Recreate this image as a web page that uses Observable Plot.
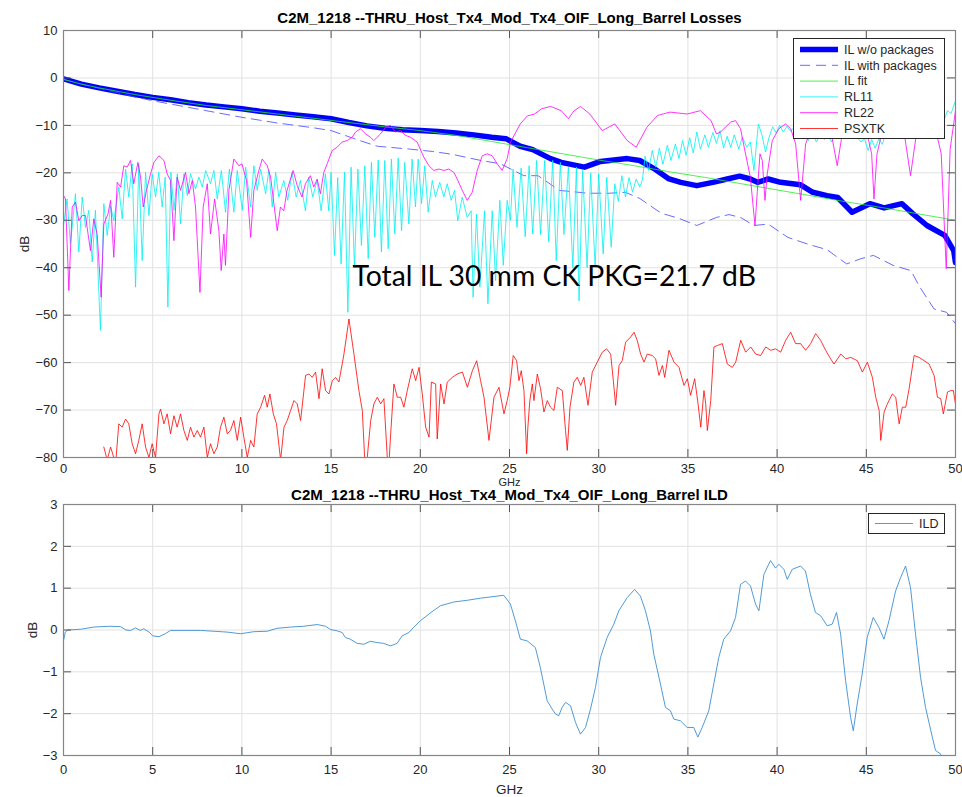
<!DOCTYPE html>
<html><head><meta charset="utf-8">
<script src="https://cdn.jsdelivr.net/npm/d3@7"></script>
<script src="https://cdn.jsdelivr.net/npm/@observablehq/plot@0.6"></script>
<style>
body{margin:0;background:#fff;}
#wrap{position:relative;width:962px;height:797px;font-family:"Liberation Sans",Arial,sans-serif;overflow:hidden;}
#top,#bot,.leg{position:absolute;left:0;}
#top{top:0;}
#bot{top:482px;}
</style></head>
<body>
<div id="wrap"><div id="top"></div><div id="bot"></div></div>
<script>
// ---------- data (GHz, dB) ----------
const titleTop = "C2M_1218 --THRU_Host_Tx4_Mod_Tx4_OIF_Long_Barrel Losses";
const titleBot = "C2M_1218 --THRU_Host_Tx4_Mod_Tx4_OIF_Long_Barrel ILD";
const xLabel = "GHz";
const yLabel = "dB";
const annotation = {text: "Total IL 30 mm CK PKG=21.7 dB", f: 16.2, db: -42};
const xTicks = [0,5,10,15,20,25,30,35,40,45,50];
const yTicksTop = [-80,-70,-60,-50,-40,-30,-20,-10,0,10];
const yTicksBot = [-3,-2,-1,0,1,2,3];
const seriesNames = ["IL w/o packages","IL with packages","IL fit","RL11","RL22","PSXTK"];

const ilNoPkg = [[0,-0.2],[1,-1.3],[2,-2.1],[3,-2.8],[4,-3.5],[5,-4.1],[6,-4.6],[7,-5.2],[8,-5.7],[9,-6.1],[10,-6.5],[11,-7.0],[12,-7.4],[13,-7.8],[14,-8.2],[15,-8.6],[16,-9.4],[17,-10.1],[18,-10.6],[19,-10.9],[20,-11.1],[21,-11.3],[22,-11.6],[23,-12.0],[24,-12.5],[24.8,-12.8],[25.6,-14.4],[26.3,-15.1],[27.3,-17.0],[27.9,-17.8],[29.2,-18.8],[30.1,-17.6],[31.6,-17.0],[32.3,-17.4],[33.1,-19.1],[33.9,-21.2],[34.6,-22.0],[35.5,-22.7],[36.4,-22.0],[37.2,-21.3],[37.9,-20.7],[38.5,-21.3],[38.9,-22.0],[39.5,-21.3],[40.2,-22.0],[41.3,-22.5],[42.0,-24.1],[42.8,-24.8],[43.4,-25.2],[44.2,-28.3],[45.2,-26.5],[46.0,-27.4],[47.0,-26.5],[47.6,-28.6],[48.4,-31.1],[49.4,-33.2],[49.9,-36.4],[50,-38.9]];

const ilPkg = [[0,-0.3],[1,-1.3],[2,-2.2],[3,-3.1],[4,-4.0],[5,-4.8],[6,-5.5],[7,-6.2],[8,-6.9],[9,-7.6],[10,-8.3],[11,-8.9],[12,-9.5],[13,-10.0],[14,-10.5],[15,-11.1],[16,-12.4],[16.6,-13.2],[17.6,-14.4],[19.4,-15.0],[20.7,-15.5],[21.8,-16.1],[23.4,-17.4],[24.5,-18.1],[25.8,-20.6],[26.6,-20.6],[27.8,-23.7],[29.4,-24.3],[30.6,-24.3],[31.5,-24.1],[32.3,-25.4],[33.5,-28.5],[34.5,-29.6],[35.5,-31.1],[36.6,-29.4],[37.3,-28.8],[37.95,-29.4],[38.7,-31.1],[39.5,-30.8],[40.6,-33.6],[41.7,-35.0],[42.8,-36.2],[43.9,-39.2],[44.7,-38.1],[45.4,-37.4],[46.5,-39.5],[47.5,-40.6],[48.0,-44.1],[48.8,-48.7],[49.5,-49.4],[50,-51.8]];

const ilFit = [[0,-0.3],[1,-1.3],[2,-2.1],[4,-3.5],[6,-4.7],[8,-5.8],[10,-6.7],[12,-7.6],[14,-8.5],[16,-9.4],[18,-10.3],[20,-11.1],[22,-12.1],[24,-13.4],[26,-14.7],[28,-16.0],[30,-17.3],[32,-18.5],[34,-19.8],[36,-21.0],[38,-22.3],[40,-23.6],[42,-24.9],[44,-26.2],[46,-27.4],[48,-28.7],[50,-30.0]];

const rl11 = [[0,-31.1],[0.2,-25.5],[0.39,-35.0],[0.67,-24.4],[0.86,-36.7],[1.05,-25.1],[1.23,-31.5],[1.42,-27.9],[1.61,-38.8],[1.79,-27.9],[2.07,-53.2],[2.26,-26.5],[2.45,-33.2],[2.64,-27.0],[2.82,-30.1],[3.10,-23.0],[3.29,-29.7],[3.48,-19.2],[3.66,-25.1],[3.85,-18.1],[4.04,-44.1],[4.22,-18.1],[4.41,-38.5],[4.60,-19.9],[4.79,-29.0],[4.97,-20.2],[5.16,-25.1],[5.34,-19.9],[5.53,-27.2],[5.70,-20.9],[5.85,-48.3],[6.02,-19.9],[6.19,-27.9],[6.38,-20.2],[6.56,-30.8],[6.75,-20.2],[6.94,-24.8],[7.12,-20.2],[7.40,-23.4],[7.59,-20.9],[7.78,-23.0],[7.97,-19.5],[8.24,-22.3],[8.43,-19.5],[8.62,-25.5],[8.85,-19.5],[9.08,-28.3],[9.30,-19.2],[9.55,-28.3],[9.74,-19.5],[10.02,-27.9],[10.21,-18.8],[10.49,-27.2],[10.67,-18.5],[10.86,-23.7],[11.05,-19.2],[11.33,-24.4],[11.51,-19.5],[11.70,-27.2],[11.89,-19.9],[12.07,-25.1],[12.35,-21.6],[12.57,-25.8],[12.81,-19.9],[13.04,-25.1],[13.28,-21.6],[13.56,-28.0],[13.75,-20.9],[13.97,-25.1],[14.22,-21.6],[14.44,-28.0],[14.68,-20.2],[14.87,-28.0],[15.0,-19.9],[15.19,-37.4],[15.37,-21.0],[15.56,-39.2],[15.75,-19.9],[15.94,-49.4],[16.12,-18.8],[16.31,-39.9],[16.50,-19.2],[16.70,-35.3],[16.89,-18.5],[17.08,-38.1],[17.26,-17.8],[17.45,-33.6],[17.64,-17.3],[17.82,-36.7],[18.01,-17.4],[18.20,-36.0],[18.38,-17.1],[18.57,-32.9],[18.76,-16.9],[18.95,-32.2],[19.13,-17.8],[19.36,-30.8],[19.54,-17.1],[19.73,-27.2],[19.88,-17.1],[20.07,-26.5],[20.25,-18.5],[20.44,-28.3],[20.67,-21.6],[20.85,-25.1],[21.09,-22.0],[21.32,-25.1],[21.51,-22.3],[21.73,-25.8],[21.92,-23.7],[22.10,-30.1],[22.35,-25.1],[22.63,-29.4],[22.85,-28.0],[22.96,-46.2],[23.15,-28.7],[23.34,-44.1],[23.60,-28.0],[23.79,-47.6],[24.03,-28.0],[24.22,-42.7],[24.46,-25.8],[24.65,-39.5],[24.87,-25.8],[25.05,-30.0],[25.2,-19.2],[25.42,-31.5],[25.65,-19.0],[25.88,-33.5],[26.1,-18.5],[26.3,-32.9],[26.52,-17.4],[26.74,-33.0],[26.97,-17.4],[27.2,-34.5],[27.42,-17.4],[27.62,-38.5],[27.85,-17.8],[28.05,-33.0],[28.3,-18.8],[28.55,-40.0],[28.75,-18.8],[28.9,-47.0],[29.1,-19.5],[29.35,-40.0],[29.55,-20.0],[29.8,-39.9],[30.0,-20.2],[30.25,-37.1],[30.45,-20.9],[30.7,-35.7],[30.9,-22.3],[31.1,-26.0],[31.3,-20.6],[31.5,-25.1],[31.7,-21.0],[31.9,-24.1],[32.1,-21.3],[32.3,-23.0],[32.45,-21.5],[32.6,-16.5],[32.8,-19.5],[33.0,-15.3],[33.2,-18.8],[33.4,-14.8],[33.6,-18.2],[33.85,-14.2],[34.05,-17.4],[34.3,-13.9],[34.5,-17.0],[34.7,-13.2],[34.9,-16.3],[35.1,-12.6],[35.3,-15.8],[35.5,-11.4],[35.7,-15.0],[35.95,-12.0],[36.15,-14.6],[36.4,-11.5],[36.6,-13.8],[36.8,-11.1],[37.0,-14.8],[37.2,-12.3],[37.4,-14.6],[37.6,-12.0],[37.85,-15.0],[38.05,-12.5],[38.3,-14.6],[38.5,-13.5],[38.7,-19.5],[38.95,-9.7],[39.15,-12.0],[39.35,-15.6],[39.55,-12.5],[39.75,-10.3],[39.95,-11.6],[40.15,-10.0],[40.35,-11.4],[40.55,-10.2],[40.75,-11.2],[41.0,-10.3],[41.25,-12.0],[41.5,-11.0],[41.75,-13.2],[41.95,-11.5],[42.2,-13.5],[42.4,-12.0],[42.65,-13.0],[42.85,-11.8],[43.05,-13.5],[43.3,-11.5],[43.5,-12.8],[43.75,-11.0],[43.95,-12.5],[44.2,-10.8],[44.45,-12.3],[44.7,-13.5],[44.9,-12.8],[45.1,-15.3],[45.3,-13.0],[45.5,-14.8],[45.7,-12.8],[45.9,-14.0],[46.1,-11.5],[46.35,-12.5],[46.6,-10.5],[46.85,-11.8],[47.1,-10.2],[47.35,-11.5],[47.6,-9.8],[47.85,-11.2],[48.1,-9.5],[48.35,-10.8],[48.6,-9.0],[48.85,-10.0],[49.1,-8.2],[49.35,-9.0],[49.55,-6.9],[49.75,-7.5],[50,-4.8]];

const rl22 = [[0,-24.8],[0.11,-25.5],[0.30,-44.8],[0.49,-27.2],[0.67,-26.2],[0.86,-30.1],[1.05,-29.0],[1.23,-29.0],[1.51,-36.4],[1.70,-29.7],[1.89,-33.0],[2.11,-46.2],[2.26,-30.8],[2.49,-28.7],[2.64,-25.8],[2.82,-37.8],[3.01,-22.0],[3.20,-23.0],[3.38,-18.5],[3.57,-18.8],[3.76,-17.4],[3.94,-22.3],[4.17,-17.8],[4.32,-20.9],[4.47,-27.2],[4.65,-23.7],[4.88,-20.2],[5.07,-17.8],[5.35,-16.4],[5.63,-17.4],[5.81,-20.2],[6.00,-21.6],[6.19,-34.3],[6.37,-20.9],[6.56,-23.7],[6.84,-19.9],[7.03,-24.4],[7.22,-21.6],[7.40,-27.2],[7.65,-45.2],[7.83,-27.2],[8.06,-22.3],[8.24,-32.9],[8.47,-25.5],[8.71,-32.2],[8.84,-40.6],[8.99,-32.9],[9.08,-39.5],[9.27,-23.7],[9.55,-17.1],[9.83,-18.5],[10.0,-18.1],[10.26,-21.6],[10.49,-33.6],[10.67,-23.7],[10.95,-19.5],[11.14,-17.1],[11.42,-18.5],[11.61,-20.9],[11.98,-32.2],[12.16,-27.2],[12.35,-28.0],[12.53,-23.7],[12.87,-19.5],[13.10,-22.7],[13.37,-25.1],[13.56,-22.3],[13.84,-20.6],[14.03,-23.0],[14.22,-21.3],[14.40,-24.4],[14.59,-19.9],[14.78,-18.1],[15.06,-15.3],[15.34,-14.6],[15.62,-13.5],[15.90,-13.2],[16.18,-12.5],[16.37,-11.4],[16.65,-10.7],[16.93,-11.8],[17.21,-12.5],[17.39,-13.2],[17.77,-11.8],[18.05,-10.4],[18.33,-10.0],[18.61,-11.4],[18.89,-11.1],[19.17,-12.1],[19.45,-12.5],[19.82,-13.5],[20.20,-16.7],[20.48,-18.5],[20.76,-19.5],[21.04,-19.2],[21.32,-19.5],[21.60,-19.2],[21.88,-19.9],[22.07,-21.3],[22.35,-23.7],[22.63,-25.8],[22.91,-24.1],[23.19,-19.5],[23.47,-16.4],[23.75,-16.0],[24.03,-16.4],[24.31,-18.1],[24.59,-19.5],[24.87,-17.0],[25.06,-13.5],[25.6,-9.7],[26.0,-8.0],[26.4,-7.6],[26.8,-6.5],[27.3,-6.0],[27.9,-6.9],[28.3,-8.6],[28.6,-7.0],[28.98,-6.0],[29.5,-7.6],[30.2,-11.1],[30.9,-9.7],[31.6,-13.2],[32.1,-14.6],[32.7,-10.4],[33.3,-7.9],[34.0,-7.2],[34.96,-7.6],[35.7,-6.9],[36.3,-9.0],[36.6,-11.8],[36.83,-11.4],[37.4,-9.3],[37.67,-9.0],[37.95,-10.7],[38.23,-16.0],[38.5,-20.9],[38.76,-31.1],[38.89,-24.0],[39.04,-16.0],[39.17,-17.4],[39.32,-25.8],[39.45,-20.2],[39.73,-13.2],[40.1,-10.7],[40.47,-9.7],[40.76,-10.7],[41.04,-13.9],[41.32,-25.8],[41.6,-13.9],[41.88,-11.0],[42.3,-9.0],[42.8,-10.5],[43.1,-13.0],[43.37,-18.5],[43.6,-13.0],[44.0,-9.5],[44.5,-8.5],[45.0,-11.0],[45.3,-16.0],[45.43,-25.5],[45.6,-16.0],[46.0,-9.5],[46.6,-8.0],[47.1,-11.0],[47.48,-20.6],[47.8,-12.0],[48.3,-8.0],[48.8,-9.5],[49.2,-16.0],[49.48,-40.2],[49.7,-15.0],[50,-6.9]];

const psxtk = [[2.26,-77.8],[2.45,-80.5],[2.64,-77.8],[2.82,-80.0],[2.92,-81.3],[3.10,-72.9],[3.29,-73.6],[3.48,-71.9],[3.66,-72.9],[3.85,-77.1],[4.04,-79.2],[4.22,-76.4],[4.41,-72.9],[4.60,-77.8],[4.79,-80.0],[4.97,-77.1],[5.16,-80.0],[5.35,-70.8],[5.44,-69.8],[5.63,-72.9],[5.81,-70.8],[6.00,-75.0],[6.19,-71.2],[6.37,-73.6],[6.56,-70.8],[6.75,-74.3],[6.94,-76.4],[7.12,-73.6],[7.31,-75.7],[7.50,-74.3],[7.68,-75.7],[7.87,-73.6],[8.06,-80.0],[8.24,-77.1],[8.43,-79.2],[8.62,-77.8],[8.80,-73.6],[8.99,-71.5],[9.18,-75.0],[9.36,-74.3],[9.55,-72.2],[9.74,-76.4],[9.93,-71.5],[10.11,-75.7],[10.30,-80.0],[10.49,-76.4],[10.67,-77.8],[10.86,-70.8],[11.05,-69.4],[11.27,-66.9],[11.42,-69.4],[11.57,-66.6],[11.76,-70.8],[11.94,-72.9],[12.17,-80.5],[12.36,-73.6],[12.54,-72.2],[12.73,-70.1],[12.92,-68.0],[13.10,-68.7],[13.29,-72.2],[13.57,-62.7],[13.76,-62.4],[13.94,-63.1],[14.13,-62.0],[14.32,-67.6],[14.50,-61.3],[14.69,-65.9],[14.88,-66.6],[15.07,-63.8],[15.25,-63.1],[15.44,-64.1],[15.72,-58.2],[16.00,-50.8],[16.28,-58.2],[16.56,-65.9],[16.75,-70.1],[16.88,-80.0],[16.99,-81.5],[17.22,-72.2],[17.40,-68.7],[17.59,-67.3],[17.78,-68.7],[17.96,-67.6],[18.15,-80.0],[18.24,-81.5],[18.34,-75.0],[18.52,-64.5],[18.71,-67.3],[18.90,-67.3],[19.08,-69.4],[19.27,-65.9],[19.55,-61.3],[19.74,-63.8],[19.93,-61.0],[20.11,-66.6],[20.30,-73.6],[20.49,-75.7],[20.62,-64.1],[20.86,-64.5],[20.95,-76.1],[21.14,-64.5],[21.33,-68.7],[21.51,-64.1],[21.80,-63.1],[22.07,-62.4],[22.36,-62.0],[22.64,-65.2],[22.92,-61.7],[23.16,-59.6],[23.38,-63.8],[23.57,-67.3],[23.85,-76.4],[24.13,-67.3],[24.41,-65.2],[24.69,-70.8],[24.87,-68.0],[25.02,-65.2],[25.21,-58.5],[25.40,-59.6],[25.53,-63.8],[25.66,-61.7],[25.81,-65.9],[25.96,-79.2],[26.03,-73.6],[26.14,-68.0],[26.28,-64.5],[26.37,-68.0],[26.56,-62.4],[26.74,-65.5],[26.93,-70.4],[27.12,-68.0],[27.30,-69.4],[27.49,-70.1],[27.68,-65.2],[27.96,-65.9],[28.14,-74.3],[28.24,-78.5],[28.39,-69.4],[28.61,-64.1],[28.80,-63.1],[28.99,-64.8],[29.17,-63.1],[29.40,-69.0],[29.64,-62.0],[29.92,-59.9],[30.20,-57.8],[30.44,-57.1],[30.67,-58.2],[30.82,-63.8],[30.95,-69.0],[31.14,-60.6],[31.32,-59.6],[31.51,-55.7],[31.79,-54.6],[31.98,-53.6],[32.16,-55.3],[32.35,-58.2],[32.54,-59.9],[32.72,-58.2],[33.00,-58.5],[33.19,-59.2],[33.38,-62.7],[33.57,-60.6],[33.70,-63.1],[33.94,-57.4],[34.22,-59.9],[34.50,-61.0],[34.78,-64.8],[34.97,-63.4],[35.15,-66.9],[35.38,-63.4],[35.57,-68.7],[35.72,-73.6],[35.90,-65.9],[36.00,-68.7],[36.09,-74.3],[36.28,-68.0],[36.46,-56.7],[36.65,-56.4],[36.93,-56.0],[37.21,-60.3],[37.49,-61.0],[37.68,-59.9],[37.96,-55.3],[38.24,-57.8],[38.52,-56.7],[38.80,-58.2],[39.08,-58.5],[39.36,-56.7],[39.64,-57.4],[39.92,-57.1],[40.20,-57.8],[40.48,-55.3],[40.76,-53.6],[41.04,-56.0],[41.32,-56.0],[41.60,-57.4],[41.88,-56.0],[42.16,-53.9],[42.44,-55.3],[42.72,-57.4],[43.00,-59.2],[43.19,-60.3],[43.57,-58.2],[43.85,-59.2],[44.13,-58.9],[44.50,-59.6],[44.78,-62.0],[45.06,-59.9],[45.34,-63.1],[45.53,-67.3],[45.72,-70.1],[45.81,-76.4],[46.00,-70.4],[46.18,-68.7],[46.46,-66.6],[46.65,-67.3],[46.84,-72.9],[47.02,-69.4],[47.21,-69.4],[47.40,-65.5],[47.68,-58.5],[47.96,-58.9],[48.24,-59.6],[48.52,-60.3],[48.80,-62.7],[48.99,-67.3],[49.17,-67.6],[49.32,-70.8],[49.55,-66.2],[49.73,-65.9],[49.88,-65.9],[50,-68.7]];

const ild = [[0,-0.26],[0.1,-0.05],[0.25,0.0],[1.0,0.02],[1.7,0.07],[2.6,0.09],[3.2,0.08],[3.5,0.0],[3.76,-0.01],[4.04,0.05],[4.3,-0.01],[4.5,0.03],[4.8,-0.05],[5.0,-0.14],[5.35,-0.16],[5.7,-0.09],[6.0,-0.01],[6.93,-0.01],[7.68,-0.01],[8.43,-0.03],[9.17,-0.05],[9.92,-0.09],[10.67,-0.04],[11.42,-0.03],[11.97,0.04],[12.72,0.07],[13.47,0.09],[14.22,0.13],[14.69,0.09],[14.97,0.01],[15.34,-0.02],[15.62,-0.06],[15.8,-0.18],[16.08,-0.22],[16.46,-0.32],[16.83,-0.34],[17.2,-0.27],[17.58,-0.30],[17.95,-0.32],[18.33,-0.38],[18.7,-0.32],[18.98,-0.14],[19.36,-0.06],[19.64,0.07],[20.0,0.22],[20.6,0.42],[21.13,0.58],[21.88,0.67],[22.63,0.71],[23.37,0.76],[24.68,0.83],[25.05,0.62],[25.33,0.22],[25.61,-0.22],[25.99,-0.26],[26.45,-0.42],[26.73,-0.9],[27.11,-1.69],[27.39,-1.89],[27.58,-2.01],[27.76,-2.05],[27.95,-1.85],[28.14,-1.73],[28.42,-1.81],[28.7,-2.21],[28.98,-2.49],[29.26,-2.33],[29.54,-1.89],[29.82,-1.37],[30.1,-0.66],[30.47,-0.18],[30.85,0.14],[31.13,0.46],[31.59,0.77],[32.01,0.97],[32.34,0.81],[32.62,0.46],[32.9,-0.02],[33.09,-0.58],[33.46,-1.29],[33.74,-1.85],[34.02,-1.93],[34.21,-2.13],[34.58,-2.17],[34.96,-2.33],[35.33,-2.33],[35.56,-2.56],[35.8,-2.33],[36.17,-1.93],[36.45,-1.29],[36.73,-0.66],[37.01,-0.22],[37.39,-0.02],[37.67,0.30],[37.95,1.09],[38.23,1.17],[38.51,1.05],[38.79,0.62],[38.98,0.46],[39.26,1.33],[39.63,1.66],[39.91,1.48],[40.1,1.57],[40.38,1.45],[40.57,1.21],[40.85,1.45],[41.31,1.53],[41.59,1.41],[41.87,0.85],[42.15,0.42],[42.44,0.34],[42.81,0.10],[43.09,0.14],[43.33,0.42],[43.56,-0.10],[43.84,-1.21],[44.12,-2.09],[44.27,-2.41],[44.49,-1.77],[44.77,-1.05],[45.05,-0.18],[45.39,0.30],[45.71,0.06],[45.99,-0.22],[46.27,0.22],[46.64,0.93],[46.92,1.25],[47.2,1.53],[47.48,1.01],[47.76,-0.10],[48.04,-1.13],[48.32,-1.85],[48.7,-2.56],[48.88,-2.88],[49.16,-2.96],[49.3,-3.1]];

// ---------- styles ----------
const FONT = "'Liberation Sans', Arial, Helvetica, sans-serif";
const TXT = "#262626";
const GRID = "#e2e2e2";
const AXIS = "#858585";
const series = [
  {name: seriesNames[0], data: ilNoPkg, stroke: "#0000ff", width: 5.5},
  {name: seriesNames[1], data: ilPkg, stroke: "#4444ff", width: 0.8, dash: "10,6"},
  {name: seriesNames[2], data: ilFit, stroke: "#22ee22", width: 0.8},
  {name: seriesNames[3], data: rl11, stroke: "#00f0f0", width: 0.8},
  {name: seriesNames[4], data: rl22, stroke: "#ff00ff", width: 0.8},
  {name: seriesNames[5], data: psxtk, stroke: "#ff0000", width: 0.8}
];

function gridMarks(yTicks) {
  return [
    Plot.ruleX(xTicks, {stroke: GRID, strokeWidth: 1}),
    Plot.ruleY(yTicks, {stroke: GRID, strokeWidth: 1}),
  ];
}
function tickMarks(yTicks, innerW, innerH, tick) {
  return [
    Plot.tickX(xTicks, {x: d => d, insetTop: innerH - tick, stroke: "#555", strokeWidth: 1}),
    Plot.tickX(xTicks, {x: d => d, insetBottom: innerH - tick, stroke: "#555", strokeWidth: 1}),
    Plot.tickY(yTicks, {y: d => d, insetRight: innerW - tick, stroke: "#555", strokeWidth: 1}),
    Plot.tickY(yTicks, {y: d => d, insetLeft: innerW - tick, stroke: "#555", strokeWidth: 1}),
    Plot.frame({stroke: AXIS, strokeWidth: 1.2})
  ];
}

// ---------- top plot ----------
const W = 962, ML = 63, MR = 7;
const innerW = W - ML - MR;
const topH = 500, topMT = 30, topMB = 43;
const topInnerH = topH - topMT - topMB;

const topPlot = Plot.plot({
  width: W, height: topH, marginLeft: ML, marginRight: MR, marginTop: topMT, marginBottom: topMB,
  style: {background: "transparent", fontFamily: FONT, fontSize: "13px", color: TXT, overflow: "visible"},
  x: {domain: [0, 50], ticks: xTicks, tickFormat: d => String(d)},
  y: {domain: [-80, 10], ticks: yTicksTop, tickFormat: d => String(d)},
  marks: [
    ...gridMarks(yTicksTop),
    ...series.map(s => Plot.line(s.data, {x: d => d[0], y: d => d[1], stroke: s.stroke, strokeWidth: s.width,
        strokeDasharray: s.dash, strokeLinejoin: "round", strokeLinecap: "round", clip: true})),
    Plot.text([annotation], {x: d => d.f, y: d => d.db, text: d => d.text, textAnchor: "start",
        fontFamily: "Lato, 'Open Sans', sans-serif", fontSize: 28.3, fill: "#000"}),
    ...tickMarks(yTicksTop, innerW, topInnerH, 8),
    Plot.axisX({tickSize: 0, tickPadding: 6, label: null, fill: TXT}),
    Plot.axisY({tickSize: 0, tickPadding: 6, label: null, fill: TXT}),
    Plot.text([titleTop], {frameAnchor: "top", lineAnchor: "middle", dy: -12, text: d => d, fontWeight: "bold", fontSize: 15, fill: "#000"}),
    Plot.text([xLabel], {frameAnchor: "bottom", lineAnchor: "middle", dy: 24.5, text: d => d, fontSize: 11, fill: TXT}),
    Plot.text([yLabel], {frameAnchor: "left", textAnchor: "middle", lineAnchor: "middle", dx: -39, rotate: -90, text: d => d, fontSize: 13.5, fill: TXT})
  ]
});
document.getElementById("top").appendChild(topPlot);

// ---------- bottom plot ----------
const botH = 315, botMT = 22, botMB = 42;
const botInnerH = botH - botMT - botMB;
const botPlot = Plot.plot({
  width: W, height: botH, marginLeft: ML, marginRight: MR, marginTop: botMT, marginBottom: botMB,
  style: {background: "transparent", fontFamily: FONT, fontSize: "13px", color: TXT, overflow: "visible"},
  x: {domain: [0, 50], ticks: xTicks, tickFormat: d => String(d)},
  y: {domain: [-3, 3], ticks: yTicksBot, tickFormat: d => String(d)},
  marks: [
    ...gridMarks(yTicksBot),
    Plot.line(ild, {x: d => d[0], y: d => d[1], stroke: "#3d8fd1", strokeWidth: 0.9, strokeLinejoin: "round", clip: true}),
    ...tickMarks(yTicksBot, innerW, botInnerH, 8),
    Plot.axisX({tickSize: 0, tickPadding: 9, label: null, fill: TXT}),
    Plot.axisY({tickSize: 0, tickPadding: 6, label: null, fill: TXT}),
    Plot.text([titleBot], {frameAnchor: "top", lineAnchor: "middle", dy: -9.5, text: d => d, fontWeight: "bold", fontSize: 15, fill: "#000"}),
    Plot.text([xLabel], {frameAnchor: "bottom", lineAnchor: "middle", dy: 34, text: d => d, fontSize: 13.5, fill: TXT}),
    Plot.text([yLabel], {frameAnchor: "left", textAnchor: "middle", lineAnchor: "middle", dx: -31, rotate: -90, text: d => d, fontSize: 13.5, fill: TXT})
  ]
});
document.getElementById("bot").appendChild(botPlot);

// ---------- legends (overlay boxes) ----------
function legend(items, left, top, w, h, rowH, firstY) {
  const svg = d3.select("#wrap").append("svg").attr("class", "leg")
    .attr("width", w).attr("height", h)
    .style("left", left + "px").style("top", top + "px").style("position", "absolute");
  svg.append("rect").attr("x", 0.5).attr("y", 0.5).attr("width", w - 1).attr("height", h - 1)
    .attr("fill", "#fff").attr("stroke", "#262626").attr("stroke-width", 1);
  items.forEach((it, i) => {
    const y = firstY + i * rowH;
    svg.append("line").attr("x1", 7).attr("x2", 45).attr("y1", y).attr("y2", y)
      .attr("stroke", it.stroke).attr("stroke-width", it.width)
      .attr("stroke-dasharray", it.dash || null);
    svg.append("text").attr("x", 51).attr("y", y).attr("dy", "0.35em")
      .attr("font-family", FONT).attr("font-size", "12.5px").attr("fill", TXT).text(it.name);
  });
}
legend(series, 793, 38, 152, 101, 15.8, 11.5);
legend([{name: "ILD", stroke: "#3d8fd1", width: 0.9}], 868, 513, 77, 21, 0, 10.5);
</script>
</body></html>
